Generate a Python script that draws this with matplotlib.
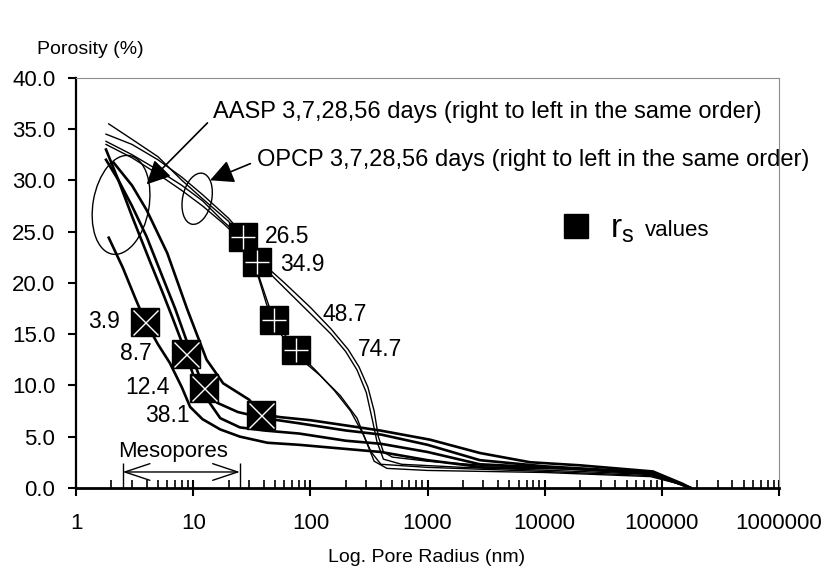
import matplotlib
matplotlib.use('Agg')
import matplotlib.pyplot as plt
from matplotlib import transforms
from matplotlib.patches import Ellipse
from matplotlib.lines import Line2D
from matplotlib.ticker import LogLocator, FuncFormatter, NullFormatter

plt.rcParams['font.family'] = ['Liberation Sans', 'DejaVu Sans']

# OPCP curves (pore radius nm, porosity %)
opcp_1_r = [1.8, 3, 5, 8, 12, 20, 30, 40, 60, 100, 150, 210, 260, 310, 350, 380, 420, 500, 1000, 3000, 20000, 80000, 150000, 175000]
opcp_1_p = [34.5, 33.5, 32.0, 30.3, 28.6, 26.3, 24.0, 21.8, 20.0, 17.6, 15.5, 13.5, 11.8, 9.8, 7.5, 5.0, 3.5, 3.0, 2.6, 2.2, 1.8, 1.4, 0.4, 0.0]
opcp_2_r = [1.9, 3, 5, 8, 12, 20, 30, 40, 60, 100, 150, 200, 250, 300, 340, 370, 420, 600, 2000, 20000, 80000, 150000, 175000]
opcp_2_p = [35.5, 34.0, 32.3, 30.0, 28.2, 26.0, 23.5, 21.5, 19.5, 17.0, 15.0, 13.3, 11.5, 9.3, 6.5, 4.5, 2.8, 2.3, 2.0, 1.6, 1.3, 0.3, 0.0]
opcp_3_r = [1.8, 3, 5, 8, 12, 18, 26.5, 35, 42, 48.7, 60, 74.7, 110, 160, 220, 280, 330, 400, 1000, 10000, 80000, 150000, 175000]
opcp_3_p = [33.8, 32.5, 31.0, 29.5, 28.0, 26.0, 24.3, 21.2, 18.5, 16.4, 15.0, 13.4, 11.5, 9.5, 7.5, 5.3, 3.5, 2.3, 2.0, 1.6, 1.2, 0.3, 0.0]
opcp_4_r = [1.8, 3, 5, 8, 12, 18, 26.5, 35, 42, 48.7, 60, 74.7, 120, 180, 250, 300, 350, 450, 1000, 10000, 80000, 150000, 175000]
opcp_4_p = [33.5, 32.2, 30.6, 29.0, 27.5, 25.8, 24.0, 21.0, 18.0, 16.0, 14.5, 13.0, 11.0, 9.0, 6.8, 4.5, 2.6, 1.9, 1.7, 1.5, 1.1, 0.3, 0.0]

# AASP curves
aasp_1_r = [1.9, 2.5, 3.2, 3.9, 5, 6.3, 8, 9.4, 12, 17, 25, 43, 80, 200, 400, 1000, 3000, 15000, 80000, 150000, 175000]
aasp_1_p = [24.4, 21.5, 18.5, 16.2, 14.0, 12.2, 9.8, 7.9, 6.7, 5.7, 5.0, 4.4, 4.2, 3.8, 3.5, 2.7, 2.0, 1.9, 1.4, 0.3, 0.0]
aasp_2_r = [1.8, 2.3, 3, 4.3, 5.5, 6.7, 8.7, 10, 12, 17, 25, 40, 80, 200, 400, 1000, 2800, 10000, 80000, 150000, 175000]
aasp_2_p = [33.0, 30.0, 26.5, 22.0, 19.0, 16.5, 13.1, 11.0, 9.3, 6.8, 5.9, 5.6, 5.3, 4.6, 4.3, 3.5, 2.3, 2.0, 1.5, 0.3, 0.0]
aasp_3_r = [1.8, 2.3, 3, 4, 5.5, 7, 9, 10.5, 12.4, 16, 24, 40, 80, 200, 400, 1000, 2800, 10000, 80000, 150000, 175000]
aasp_3_p = [32.0, 30.0, 27.5, 24.5, 20.5, 17.5, 14.0, 11.8, 9.75, 8.3, 7.4, 6.8, 6.3, 5.6, 5.2, 4.2, 2.7, 2.1, 1.5, 0.3, 0.0]
aasp_4_r = [2.1, 3, 4, 6, 8.9, 13, 18, 30, 38.1, 55, 100, 392, 1050, 2800, 7500, 20000, 84000, 150000, 175000]
aasp_4_p = [31.7, 29.5, 27.1, 22.9, 17.4, 12.5, 10.2, 8.6, 7.2, 6.9, 6.6, 5.6, 4.7, 3.4, 2.5, 2.2, 1.6, 0.4, 0.0]

# r_s values
rs_opcp = [26.5, 34.9, 48.7, 74.7]
por_opcp = [24.5, 22.0, 16.4, 13.4]
rs_aasp = [3.9, 8.7, 12.4, 38.1]
por_aasp = [16.2, 13.1, 9.75, 7.1]

xticks = [1, 10, 100, 1000, 10000, 100000, 1000000]
yticks = [0, 5, 10, 15, 20, 25, 30, 35, 40]

fig = plt.figure(figsize=(8.27, 5.76), dpi=100)
ax = fig.add_axes([0.092, 0.153, 0.850, 0.712])
ax.set_xscale('log')
ax.set_xlim(1, 1000000)
ax.set_ylim(0, 40)

for r, p in [(opcp_1_r, opcp_1_p), (opcp_2_r, opcp_2_p), (opcp_3_r, opcp_3_p), (opcp_4_r, opcp_4_p)]:
    ax.plot(r, p, color='black', lw=1.0)
for r, p in [(aasp_1_r, aasp_1_p), (aasp_2_r, aasp_2_p), (aasp_3_r, aasp_3_p), (aasp_4_r, aasp_4_p)]:
    ax.plot(r, p, color='black', lw=1.9)

# squares with cross / plus
ax.plot(rs_opcp, por_opcp, 's', color='black', ms=19.5, zorder=5)
ax.plot(rs_opcp, por_opcp, '+', color='white', ms=17, mew=1.0, zorder=6)
ax.plot(rs_aasp, por_aasp, 's', color='black', ms=19.5, zorder=5)
ax.plot(rs_aasp, por_aasp, 'x', color='white', ms=18, mew=1.0, zorder=6)

# value labels
for v, p, dx in zip(rs_aasp, por_aasp, [0.61, 0.51, 0.51, 0.245]):
    ax.text(v * dx, p, str(v), ha='right', va='center', fontsize=16.5)
ax.text(41, 24.5, '26.5', ha='left', va='center', fontsize=16.5)
ax.text(55, 21.8, '34.9', ha='left', va='center', fontsize=16.5)
ax.text(126, 16.9, '48.7', ha='left', va='center', fontsize=16.5)
ax.text(255, 13.5, '74.7', ha='left', va='center', fontsize=16.5)

# annotations with arrows
ax.annotate('AASP 3,7,28,56 days (right to left in the same order)',
            xy=(4.0, 29.6), xytext=(14.8, 36.7), fontsize=17, va='center', ha='left',
            arrowprops=dict(arrowstyle='-|>', color='black', lw=1.2, mutation_scale=36,
                            shrinkA=3, shrinkB=0, relpos=(0, 0.25)))
ax.annotate('OPCP 3,7,28,56 days (right to left in the same order)',
            xy=(13.9, 30.0), xytext=(35, 32.0), fontsize=17, va='center', ha='left',
            arrowprops=dict(arrowstyle='-|>', color='black', lw=1.2, mutation_scale=36,
                            shrinkA=3, shrinkB=0, relpos=(0, 0.45)))

# ellipses around the curve groups
t1 = fig.dpi_scale_trans + transforms.ScaledTranslation(2.42, 27.6, ax.transData)
ax.add_patch(Ellipse((0, 0), 0.56, 1.0, angle=-10, fill=False, lw=1.0, transform=t1))
t2 = fig.dpi_scale_trans + transforms.ScaledTranslation(10.8, 28.2, ax.transData)
ax.add_patch(Ellipse((0, 0), 0.29, 0.52, angle=-12, fill=False, lw=1.0, transform=t2))

# mesopores range
ax.annotate('', xy=(2.5, 1.55), xytext=(25, 1.55),
            arrowprops=dict(arrowstyle='<->, head_length=0.9, head_width=0.3', lw=1.0,
                            color='black', mutation_scale=20, shrinkA=0, shrinkB=0))
ax.vlines([2.5, 25], 0, 2.4, color='black', lw=1.0)
ax.text(6.7, 3.5, 'Mesopores', ha='center', va='center', fontsize=16)

# legend key
leg = ax.legend(handles=[Line2D([], [], marker='s', color='black', ls='', ms=17)],
                labels=[r'$\mathregular{r_s}$'], fontsize=24, frameon=False,
                loc='center left', bbox_to_anchor=(0.664, 0.63), borderpad=0,
                handletextpad=0.5, handlelength=1.0)
ax.text(0.809, 0.628, 'values', transform=ax.transAxes, fontsize=16, va='center', ha='left')

# axes styling
for s in ['top', 'right']:
    ax.spines[s].set_color('0.55')
    ax.spines[s].set_linewidth(0.8)
ax.spines['left'].set_linewidth(1.6)
ax.spines['bottom'].set_linewidth(2.0)

ax.set_xticks(xticks)
ax.xaxis.set_major_formatter(FuncFormatter(lambda v, pos: '%d' % v))
ax.xaxis.set_minor_locator(LogLocator(base=10, subs=range(2, 10), numticks=50))
ax.xaxis.set_minor_formatter(NullFormatter())
ax.tick_params(axis='x', which='major', direction='inout', length=12, width=1.5, labelsize=16, pad=12)
ax.tick_params(axis='x', which='minor', direction='in', length=6, width=1.2)
ax.set_yticks(yticks)
ax.yaxis.set_major_formatter(FuncFormatter(lambda v, pos: '%.1f' % v))
ax.tick_params(axis='y', direction='out', length=6, width=1.5, labelsize=16, pad=9)

fig.text(37 / 827, 1 - 50 / 576, 'Porosity (%)', fontsize=14, va='center', ha='left')
fig.text(427 / 827, 1 - 558 / 576, 'Log. Pore Radius (nm)', fontsize=14, va='center', ha='center')

fig.savefig('out.png', dpi=100)
